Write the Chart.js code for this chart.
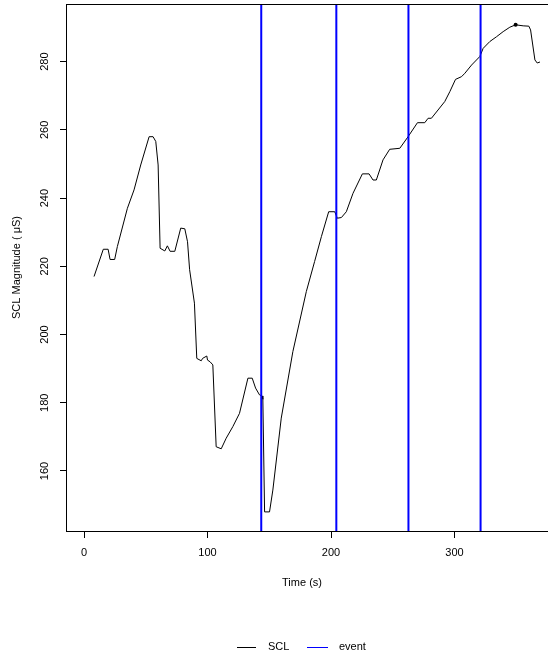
<!DOCTYPE html>
<html>
<head>
<meta charset="utf-8">
<script src="https://cdn.jsdelivr.net/npm/chart.js@4"></script>
<style>
  html, body { margin: 0; padding: 0; background: #fff; }
  #wrap { width: 548px; height: 655px; }
</style>
</head>
<body>
<div id="wrap"><canvas id="sclChart" width="548" height="655"></canvas></div>
<script>
// time (s) and skin conductance level
const timeSec = [8.1, 15.6, 19.5, 21.1, 24.8, 27, 35.1, 40.5, 45.9, 52.7, 55.9, 58.1, 60, 61.6,
  65.4, 67.5, 69.7, 73.5, 78.3, 81.6, 83.8, 85.5, 89.4, 91.3, 94.9, 96, 99.4, 100, 102.1, 104.3,
  107, 111.1, 115.1, 120.5, 125.9, 132.7, 136.2, 138.9, 142.1, 144.3, 144.8, 146.2, 150.2, 152.9,
  159.7, 169.1, 180, 186.7, 192.2, 198.1, 203, 205.1, 208.4, 212.4, 217.8, 225.4, 230.8, 234,
  236.7, 242.1, 247.5, 255.7, 262.4, 270, 275.9, 278.6, 281.3, 292.1, 296.2, 300.8, 305.7, 308.4,
  313.8, 320.5, 323.2, 328.6, 334, 339.4, 344.8, 349.5, 355.6, 360.2, 361.6, 365.1, 367, 369.2];
const sclValues = [217, 225, 225, 222, 222, 225.8, 237, 242.4, 249.7, 258, 258, 256.6, 249.7, 225.3,
  224.5, 226, 224.4, 224.4, 231.2, 231, 227.2, 219, 209.2, 193, 192.3, 193, 193.7, 192.5, 192, 191.1,
  167.1, 166.5, 169.6, 173, 176.9, 187.2, 187.2, 184.3, 182.3, 182, 181, 148, 148, 154.4,
  175.5, 195, 212.6, 221.4, 228.7, 236, 236, 234.1, 234.3, 236, 241.4, 247.1, 247.1, 245.3,
  245.3, 251.2, 254.3, 254.6, 258, 262.1, 262.1, 263.4, 263.4, 268.3, 271.2, 274.8, 275.6, 276.6,
  279, 281.5, 283.9, 285.9, 287.3, 288.8, 290.1, 290.8, 290.5, 290.4, 289.3, 280.5, 279.6, 279.9];
const markTime = 349.5;

const eventTimes = [143.5, 204.3, 262.7, 321.1];

const xTicks = [0, 100, 200, 300];
const yTicks = [160, 180, 200, 220, 240, 260, 280];
const xRange = [-14.6, 375.7];
const yRange = [142.4, 296.9];

const sclPoints = timeSec.map((t, i) => ({ x: t, y: sclValues[i] }));
const eventPoints = [];
eventTimes.forEach(t => {
  eventPoints.push({ x: t, y: yRange[0] }, { x: t, y: yRange[1] }, { x: t, y: null });
});

const fontFamily = "'Liberation Sans', Arial, Helvetica, sans-serif";

// R style extras: box, rotated y labels, axis titles, legend
const rStyle = {
  id: 'rStyle',
  afterDraw(chart) {
    const { ctx, chartArea: a, scales } = chart;
    const yScale = scales.y;
    ctx.save();
    ctx.strokeStyle = '#000';
    ctx.lineWidth = 1;
    ctx.beginPath();
    ctx.moveTo(a.left + 0.5, a.top + 0.5);
    ctx.lineTo(a.right + 2, a.top + 0.5);
    ctx.stroke();

    ctx.fillStyle = '#000';
    ctx.font = '11px ' + fontFamily;
    ctx.textAlign = 'center';
    ctx.textBaseline = 'middle';
    yTicks.forEach(v => {
      const py = yScale.getPixelForValue(v);
      ctx.save();
      ctx.translate(45, py);
      ctx.rotate(-Math.PI / 2);
      ctx.fillText(String(v), 0, 0);
      ctx.restore();
    });

    ctx.fillText('Time (s)', 302, 583);
    ctx.save();
    ctx.translate(17, 267.5);
    ctx.rotate(-Math.PI / 2);
    ctx.fillText('SCL Magnitude ( \u03bcS)', 0, 0);
    ctx.restore();

    // legend
    const items = [
      { ds: chart.data.datasets[0], x0: 237, x1: 256, tx: 268 },
      { ds: chart.data.datasets[1], x0: 307, x1: 328, tx: 339 }
    ];
    const ly = 647;
    ctx.textAlign = 'left';
    items.forEach(it => {
      ctx.strokeStyle = it.ds.borderColor;
      ctx.lineWidth = 1;
      ctx.beginPath();
      ctx.moveTo(it.x0, ly + 0.5);
      ctx.lineTo(it.x1, ly + 0.5);
      ctx.stroke();
      ctx.fillStyle = '#000';
      ctx.fillText(it.ds.label, it.tx, ly);
    });
    ctx.restore();
  }
};

document.addEventListener("DOMContentLoaded", function() {
  const ctx = document.getElementById('sclChart');
  new Chart(ctx, {
    type: 'line',
    data: {
      datasets: [
        {
          label: 'SCL',
          data: sclPoints,
          borderColor: '#000000',
          backgroundColor: '#000000',
          borderWidth: 1,
          tension: 0,
          pointRadius: c => (timeSec[c.dataIndex] === markTime ? 2 : 0),
          pointBorderWidth: 0,
          order: 1
        },
        {
          label: 'event',
          data: eventPoints,
          borderColor: '#0000ff',
          borderWidth: 2,
          pointRadius: 0,
          spanGaps: false,
          order: 0
        }
      ]
    },
    options: {
      responsive: false,
      animation: false,
      devicePixelRatio: 1,
      layout: { padding: { top: 4, right: 0, left: 0, bottom: 0 } },
      plugins: {
        legend: { display: false },
        tooltip: { enabled: false }
      },
      scales: {
        x: {
          type: 'linear',
          min: xRange[0],
          max: xRange[1],
          afterBuildTicks: s => { s.ticks = xTicks.map(v => ({ value: v })); },
          afterFit: s => { s.height = 124; },
          grid: { drawOnChartArea: false, drawTicks: true, tickLength: 7, color: '#000' },
          border: { display: true, color: '#000', width: 1 },
          ticks: {
            color: '#000',
            padding: 8,
            maxRotation: 0,
            font: { family: fontFamily, size: 11 }
          }
        },
        y: {
          type: 'linear',
          min: yRange[0],
          max: yRange[1],
          afterBuildTicks: s => { s.ticks = yTicks.map(v => ({ value: v })); },
          afterFit: s => { s.width = 66; },
          grid: { drawOnChartArea: false, drawTicks: true, tickLength: 6, color: '#000' },
          border: { display: true, color: '#000', width: 1 },
          ticks: { display: false }
        }
      }
    },
    plugins: [rStyle]
  });
});
</script>
</body>
</html>
